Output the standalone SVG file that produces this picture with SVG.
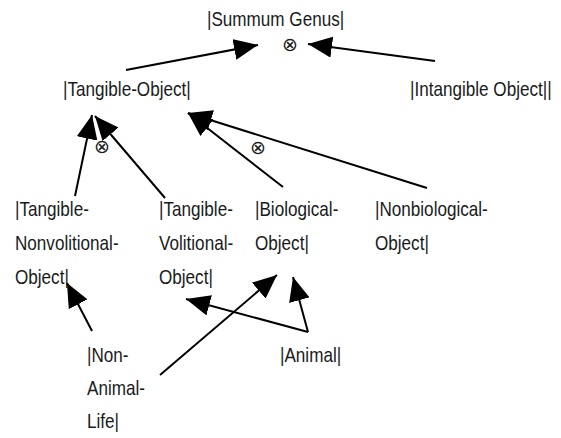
<svg xmlns="http://www.w3.org/2000/svg" width="561" height="438" viewBox="0 0 561 438">
<style>
.t{font-family:"Liberation Sans",Arial,sans-serif;font-size:21px;fill:#1a1a1a}
.x{font-family:"DejaVu Sans",sans-serif;font-size:19px;fill:#1a1a1a;text-anchor:middle}
.c{stroke:#000;stroke-width:2;fill:none;marker-end:url(#ah)}
</style>
<defs>
<marker id="ah" markerUnits="userSpaceOnUse" viewBox="0 0 24 21" refX="24" refY="10.5" markerWidth="24" markerHeight="21" orient="auto">
<path d="M0,0 L24,10.5 L0,21 Z" fill="#000"/>
</marker>
</defs>
<rect width="561" height="438" fill="#fff"/>
<g id="connectors">
<line class="c" x1="126" y1="70" x2="258" y2="45"/>
<line class="c" x1="435" y1="61" x2="308" y2="44"/>
<line class="c" x1="75" y1="196" x2="92" y2="115"/>
<line class="c" x1="165" y1="198" x2="95" y2="116"/>
<line class="c" x1="283" y1="187" x2="188" y2="113"/>
<line class="c" x1="427" y1="188" x2="188" y2="113"/>
<line class="c" x1="92" y1="331" x2="67" y2="283"/>
<line class="c" x1="160" y1="375" x2="277" y2="275"/>
<line class="c" x1="308" y1="332" x2="186" y2="299"/>
<line class="c" x1="308" y1="332" x2="293" y2="277"/>
<text class="x" x="290" y="51">⊗</text>
<text class="x" x="102" y="153">⊗</text>
<text class="x" x="258" y="154">⊗</text>
</g>
<g id="summum-genus"><text class="t" transform="translate(207,26) scale(0.815,1)">|Summum Genus|</text></g>
<g id="tangible-object"><text class="t" transform="translate(63,96) scale(0.815,1)">|Tangible-Object|</text></g>
<g id="intangible-object"><text class="t" transform="translate(410,96) scale(0.815,1)">|Intangible Object||</text></g>
<g id="tangible-nonvolitional-object">
<text class="t" transform="translate(15,216) scale(0.815,1)">|Tangible-</text>
<text class="t" transform="translate(15,250) scale(0.815,1)">Nonvolitional-</text>
<text class="t" transform="translate(15,284) scale(0.815,1)">Object|</text>
</g>
<g id="tangible-volitional-object">
<text class="t" transform="translate(159,216) scale(0.815,1)">|Tangible-</text>
<text class="t" transform="translate(159,250) scale(0.815,1)">Volitional-</text>
<text class="t" transform="translate(159,284) scale(0.815,1)">Object|</text>
</g>
<g id="biological-object">
<text class="t" transform="translate(255,216) scale(0.815,1)">|Biological-</text>
<text class="t" transform="translate(255,250) scale(0.815,1)">Object|</text>
</g>
<g id="nonbiological-object">
<text class="t" transform="translate(375,216) scale(0.815,1)">|Nonbiological-</text>
<text class="t" transform="translate(375,250) scale(0.815,1)">Object|</text>
</g>
<g id="non-animal-life">
<text class="t" transform="translate(87,362) scale(0.815,1)">|Non-</text>
<text class="t" transform="translate(87,395) scale(0.815,1)">Animal-</text>
<text class="t" transform="translate(87,428) scale(0.815,1)">Life|</text>
</g>
<g id="animal"><text class="t" transform="translate(280,362) scale(0.815,1)">|Animal|</text></g>
</svg>
